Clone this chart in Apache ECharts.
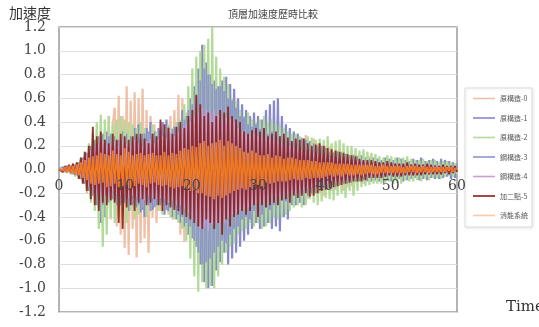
<!DOCTYPE html>
<html>
<head>
<meta charset="utf-8">
<script src="https://cdn.jsdelivr.net/npm/echarts@6/dist/echarts.min.js"></script>
<style>
html,body{margin:0;padding:0;background:#fff;}
#chart{width:539px;height:327px;}
</style>
</head>
<body>
<div id="chart"></div>
<script>
// Chart texts
const chartTitle = '頂層加速度歷時比較';
const yAxisTitle = '加速度';
const xAxisTitle = 'Time';
const seriesNames = ['原構造-0', '原構造-1', '原構造-2', '鋼構造-3', '鋼構造-4', '加二點-5', '消能系統'];
const xTicks = [0, 10, 20, 30, 40, 50, 60];
const yTicks = [-1.2, -1.0, -0.8, -0.6, -0.4, -0.2, 0.0, 0.2, 0.4, 0.6, 0.8, 1.0, 1.2];
// sampling interval of the records (s), records start at t = 0
const timeStep = 0.3;

// Series values (one row = 3 s)
const s0 = [
 0, 0.01, -0.01, 0.02, -0.02, 0.01, -0.03, 0.02, -0.02, 0.03,
 -0.05, 0.08, -0.1, 0.12, -0.09, 0.15, -0.18, 0.14, -0.2, 0.22,
 -0.28, 0.25, -0.35, 0.32, -0.3, 0.45, -0.42, 0.38, 0.52, -0.48,
 0.62, -0.55, 0.45, -0.66, 0.7, -0.72, 0.58, -0.5, 0.65, -0.74,
 0.6, -0.62, 0.68, -0.58, 0.5, -0.7, 0.45, -0.4, 0.38, -0.45,
 0.32, -0.35, 0.4, -0.3, 0.28, -0.38, 0.45, -0.42, 0.5, -0.4,
 0.63, -0.55, 0.6, -0.61, 0.48, -0.45, 0.35, -0.3, 0.4, -0.35,
 0.3, -0.38, 0.35, -0.3, 0.4, -0.32, 0.28, -0.35, 0.3, -0.28,
 0.32, -0.3, 0.28, -0.25, 0.35, -0.3, 0.27, -0.32, 0.3, -0.26,
 0.25, -0.3, 0.28, -0.22, 0.3, -0.25, 0.35, -0.28, 0.42, -0.3,
 0.38, -0.32, 0.4, -0.3, 0.33, -0.35, 0.3, -0.28, 0.32, -0.3,
 0.28, -0.25, 0.3, -0.26, 0.22, -0.28, 0.3, -0.24, 0.28, -0.3,
 0.3, -0.28, 0.27, -0.26, 0.29, -0.25, 0.24, -0.22, 0.26, -0.2,
 0.22, -0.2, 0.18, -0.22, 0.2, -0.16, 0.19, -0.18, 0.15, -0.17,
 0.16, -0.14, 0.15, -0.18, 0.13, -0.15, 0.12, -0.14, 0.13, -0.11,
 0.12, -0.1, 0.11, -0.12, 0.1, -0.09, 0.11, -0.1, 0.08, -0.1,
 0.09, -0.08, 0.07, -0.09, 0.08, -0.07, 0.06, -0.08, 0.07, -0.06,
 0.07, -0.06, 0.05, -0.07, 0.06, -0.05, 0.06, -0.06, 0.05, -0.05,
 0.05, -0.04, 0.06, -0.05, 0.04, -0.05, 0.05, -0.04, 0.04, -0.05,
 0.04, -0.04, 0.05, -0.03, 0.04, -0.04, 0.03, -0.04, 0.04, -0.03,
 0.02
];
const s1 = [
 0, -0.01, 0.02, -0.02, 0.03, -0.02, 0.03, -0.04, 0.04, -0.05,
 0.06, -0.08, 0.1, -0.12, 0.14, -0.18, 0.2, -0.22, 0.25, -0.3,
 0.28, -0.45, 0.3, -0.4, 0.32, -0.28, 0.3, -0.25, 0.28, -0.3,
 0.25, -0.3, 0.32, -0.28, 0.3, -0.35, 0.28, -0.3, 0.35, -0.32,
 0.38, -0.36, 0.3, -0.4, 0.35, -0.3, 0.4, -0.34, 0.32, -0.3,
 0.35, -0.3, 0.4, -0.38, 0.42, -0.35, 0.3, -0.4, 0.36, -0.42,
 0.4, -0.45, 0.5, -0.48, 0.45, -0.55, 0.6, -0.58, 0.7, -0.65,
 0.85, -0.8, 1.05, -0.95, 0.9, -1.0, 0.8, -0.98, 0.75, -0.85,
 0.7, -0.78, 0.75, -0.7, 0.78, -0.8, 0.72, -0.75, 0.68, -0.7,
 0.6, -0.65, 0.55, -0.6, 0.5, -0.55, 0.45, -0.5, 0.48, -0.45,
 0.45, -0.5, 0.42, -0.48, 0.5, -0.45, 0.55, -0.5, 0.58, -0.48,
 0.6, -0.52, 0.45, -0.4, 0.38, -0.42, 0.35, -0.3, 0.32, -0.3,
 0.3, -0.28, 0.26, -0.3, 0.25, -0.22, 0.24, -0.2, 0.22, -0.2,
 0.2, -0.18, 0.2, -0.16, 0.18, -0.17, 0.15, -0.16, 0.14, -0.15,
 0.15, -0.13, 0.14, -0.12, 0.13, -0.12, 0.12, -0.11, 0.12, -0.1,
 0.11, -0.1, 0.12, -0.09, 0.1, -0.1, 0.09, -0.1, 0.1, -0.09,
 0.09, -0.1, 0.08, -0.09, 0.1, -0.08, 0.09, -0.1, 0.08, -0.09,
 0.1, -0.08, 0.09, -0.1, 0.08, -0.09, 0.07, -0.08, 0.09, -0.07,
 0.08, -0.09, 0.1, -0.08, 0.07, -0.09, 0.08, -0.07, 0.09, -0.08,
 0.07, -0.08, 0.09, -0.07, 0.08, -0.06, 0.07, -0.08, 0.06, -0.07,
 0.05
];
const s2 = [
 0, 0.01, -0.02, 0.02, -0.03, 0.03, -0.04, 0.05, -0.06, 0.06,
 -0.08, 0.1, -0.12, 0.15, -0.2, 0.22, -0.28, 0.3, -0.35, 0.4,
 -0.5, 0.46, -0.65, 0.42, -0.55, 0.45, -0.4, 0.38, -0.45, 0.42,
 -0.4, 0.45, -0.38, 0.42, -0.45, 0.4, -0.35, 0.38, -0.42, 0.35,
 -0.38, 0.4, -0.32, 0.35, -0.4, 0.3, -0.35, 0.38, -0.3, 0.32,
 -0.35, 0.3, -0.38, 0.35, -0.32, 0.38, -0.4, 0.35, -0.42, 0.4,
 -0.45, 0.42, -0.5, 0.55, -0.6, 0.7, -0.75, 0.85, -0.9, 0.95,
 -1.03, 1.0, -0.95, 1.05, -1.0, 1.1, -0.98, 1.2, -1.0, 0.95,
 -0.9, 0.85, -0.8, 0.78, -0.7, 0.72, -0.65, 0.6, -0.62, 0.58,
 -0.55, 0.5, -0.52, 0.45, -0.5, 0.48, -0.45, 0.42, -0.48, 0.4,
 -0.45, 0.42, -0.5, 0.45, -0.48, 0.4, -0.45, 0.42, -0.4, 0.38,
 -0.42, 0.38, -0.4, 0.35, -0.38, 0.32, -0.35, 0.3, -0.32, 0.3,
 -0.3, 0.28, -0.32, 0.26, -0.3, 0.28, -0.25, 0.27, -0.28, 0.25,
 -0.3, 0.26, -0.27, 0.25, -0.24, 0.28, -0.25, 0.22, -0.26, 0.24,
 -0.22, 0.25, -0.2, 0.22, -0.24, 0.2, -0.18, 0.2, -0.22, 0.18,
 -0.18, 0.16, -0.15, 0.17, -0.14, 0.15, -0.13, 0.14, -0.12, 0.13,
 -0.12, 0.11, -0.12, 0.1, -0.11, 0.12, -0.1, 0.11, -0.12, 0.1,
 -0.11, 0.1, -0.12, 0.1, -0.09, 0.11, -0.1, 0.09, -0.1, 0.08,
 -0.09, 0.08, -0.1, 0.09, -0.08, 0.07, -0.09, 0.08, -0.07, 0.08,
 -0.07, 0.06, -0.08, 0.07, -0.06, 0.07, -0.05, 0.06, -0.06, 0.05,
 -0.04
];
const s3 = [
 0, 0.01, -0.01, 0.02, -0.02, 0.02, -0.03, 0.03, -0.03, 0.04,
 -0.05, 0.07, -0.08, 0.1, -0.12, 0.14, -0.16, 0.18, -0.2, 0.22,
 -0.25, 0.22, -0.3, 0.25, -0.22, 0.28, -0.25, 0.2, -0.26, 0.24,
 -0.22, 0.25, -0.28, 0.22, -0.25, 0.2, -0.3, 0.26, -0.24, 0.28,
 -0.3, 0.26, -0.34, 0.3, -0.28, 0.32, -0.35, 0.3, -0.32, 0.28,
 -0.3, 0.32, -0.28, 0.3, -0.34, 0.36, -0.3, 0.34, -0.32, 0.35,
 -0.38, 0.36, -0.4, 0.42, -0.45, 0.5, -0.48, 0.55, -0.6, 0.62,
 -0.7, 0.75, -0.8, 0.85, -0.78, 0.8, -0.75, 0.72, -0.7, 0.68,
 -0.65, 0.7, -0.6, 0.66, -0.62, 0.6, -0.55, 0.58, -0.5, 0.52,
 -0.48, 0.45, -0.42, 0.44, -0.4, 0.38, -0.42, 0.36, -0.35, 0.38,
 -0.36, 0.34, -0.38, 0.35, -0.32, 0.3, -0.34, 0.32, -0.3, 0.28,
 -0.3, 0.28, -0.26, 0.25, -0.27, 0.24, -0.22, 0.23, -0.2, 0.22,
 -0.2, 0.18, -0.2, 0.17, -0.18, 0.16, -0.15, 0.17, -0.16, 0.14,
 -0.14, 0.13, -0.15, 0.12, -0.13, 0.12, -0.11, 0.12, -0.1, 0.11,
 -0.1, 0.09, -0.1, 0.1, -0.09, 0.08, -0.09, 0.08, -0.07, 0.08,
 -0.07, 0.07, -0.06, 0.07, -0.06, 0.05, -0.06, 0.06, -0.05, 0.06,
 -0.05, 0.06, -0.05, 0.05, -0.06, 0.04, -0.05, 0.05, -0.04, 0.05,
 -0.05, 0.04, -0.05, 0.04, -0.04, 0.05, -0.04, 0.04, -0.05, 0.04,
 -0.04, 0.04, -0.03, 0.04, -0.04, 0.03, -0.04, 0.03, -0.03, 0.04,
 -0.03, 0.03, -0.04, 0.03, -0.03, 0.03, -0.02, 0.03, -0.03, 0.02,
 -0.02
];
const s4 = [
 0, -0.01, 0.01, -0.02, 0.02, -0.02, 0.03, -0.03, 0.04, -0.04,
 0.05, -0.06, 0.08, -0.1, 0.12, -0.14, 0.16, -0.15, 0.18, -0.2,
 0.22, -0.2, 0.24, -0.22, 0.2, -0.25, 0.22, -0.18, 0.24, -0.2,
 0.2, -0.22, 0.25, -0.2, 0.22, -0.24, 0.2, -0.22, 0.25, -0.23,
 0.22, -0.24, 0.2, -0.26, 0.24, -0.22, 0.26, -0.24, 0.22, -0.25,
 0.26, -0.24, 0.28, -0.25, 0.27, -0.28, 0.3, -0.26, 0.28, -0.3,
 0.32, -0.3, 0.35, -0.33, 0.38, -0.36, 0.4, -0.42, 0.45, -0.44,
 0.48, -0.5, 0.52, -0.48, 0.5, -0.52, 0.48, -0.46, 0.5, -0.45,
 0.46, -0.44, 0.42, -0.45, 0.44, -0.4, 0.42, -0.38, 0.4, -0.36,
 0.35, -0.34, 0.32, -0.33, 0.3, -0.32, 0.28, -0.3, 0.3, -0.28,
 0.28, -0.27, 0.26, -0.28, 0.27, -0.25, 0.26, -0.24, 0.25, -0.23,
 0.24, -0.22, 0.22, -0.23, 0.2, -0.21, 0.2, -0.19, 0.18, -0.2,
 0.18, -0.17, 0.16, -0.17, 0.15, -0.16, 0.14, -0.15, 0.14, -0.13,
 0.13, -0.12, 0.12, -0.13, 0.11, -0.12, 0.1, -0.11, 0.1, -0.1,
 0.09, -0.1, 0.09, -0.08, 0.09, -0.08, 0.07, -0.08, 0.07, -0.07,
 0.07, -0.06, 0.07, -0.06, 0.06, -0.06, 0.05, -0.06, 0.05, -0.05,
 0.05, -0.05, 0.04, -0.05, 0.04, -0.04, 0.05, -0.04, 0.04, -0.04,
 0.04, -0.04, 0.03, -0.04, 0.04, -0.03, 0.03, -0.04, 0.03, -0.03,
 0.03, -0.03, 0.03, -0.03, 0.02, -0.03, 0.03, -0.02, 0.03, -0.02,
 0.02, -0.03, 0.02, -0.02, 0.02, -0.02, 0.02, -0.02, 0.01, -0.02,
 0.01
];
const s5 = [
 0, 0.01, -0.02, 0.03, -0.02, 0.04, -0.03, 0.05, -0.04, 0.06,
 -0.08, 0.1, -0.12, 0.15, -0.18, 0.2, -0.25, 0.36, -0.3, 0.28,
 -0.35, 0.32, -0.28, 0.25, -0.3, 0.22, -0.26, 0.3, -0.28, 0.25,
 -0.45, 0.3, -0.5, 0.28, -0.32, 0.25, -0.3, 0.28, -0.35, 0.3,
 -0.28, 0.3, -0.25, 0.26, -0.3, 0.22, -0.28, 0.3, -0.25, 0.28,
 -0.3, 0.42, -0.35, 0.38, -0.3, 0.35, -0.32, 0.3, -0.34, 0.36,
 -0.35, 0.4, -0.38, 0.35, -0.4, 0.45, -0.42, 0.5, -0.45, 0.63,
 -0.48, 0.55, -0.5, 0.45, -0.42, 0.48, -0.45, 0.4, -0.5, 0.45,
 -0.45, 0.5, -0.55, 0.48, -0.42, 0.53, -0.48, 0.45, -0.4, 0.42,
 -0.38, 0.4, -0.35, 0.32, -0.38, 0.3, -0.35, 0.33, -0.3, 0.35,
 -0.4, 0.32, -0.3, 0.35, -0.32, 0.28, -0.3, 0.3, -0.28, 0.32,
 -0.3, 0.28, -0.26, 0.3, -0.25, 0.27, -0.28, 0.24, -0.22, 0.26,
 -0.24, 0.25, -0.22, 0.26, -0.2, 0.22, -0.23, 0.2, -0.22, 0.21,
 -0.2, 0.22, -0.18, 0.2, -0.17, 0.18, -0.16, 0.17, -0.15, 0.16,
 -0.14, 0.15, -0.13, 0.14, -0.12, 0.13, -0.11, 0.12, -0.1, 0.11,
 -0.1, 0.09, -0.1, 0.08, -0.09, 0.08, -0.07, 0.08, -0.07, 0.07,
 -0.07, 0.06, -0.07, 0.06, -0.06, 0.07, -0.05, 0.06, -0.06, 0.05,
 -0.06, 0.05, -0.06, 0.05, -0.05, 0.06, -0.05, 0.04, -0.05, 0.05,
 -0.05, 0.04, -0.05, 0.04, -0.04, 0.05, -0.04, 0.04, -0.04, 0.03,
 -0.04, 0.03, -0.04, 0.04, -0.03, 0.03, -0.04, 0.03, -0.03, 0.03,
 -0.02
];
const s6 = [
 0, 0.01, -0.01, 0.02, -0.02, 0.03, -0.03, 0.03, -0.04, 0.04,
 -0.05, 0.06, -0.07, 0.08, -0.09, 0.1, -0.12, 0.11, -0.13, 0.12,
 -0.12, 0.14, -0.11, 0.13, -0.15, 0.12, -0.14, 0.16, -0.12, 0.13,
 -0.15, 0.12, -0.14, 0.18, -0.13, 0.15, -0.16, 0.12, -0.14, 0.13,
 -0.12, 0.14, -0.13, 0.12, -0.15, 0.13, -0.12, 0.14, -0.11, 0.12,
 -0.13, 0.12, -0.14, 0.15, -0.13, 0.12, -0.15, 0.14, -0.16, 0.13,
 -0.15, 0.16, -0.14, 0.18, -0.16, 0.17, -0.18, 0.2, -0.17, 0.19,
 -0.2, 0.22, -0.2, 0.24, -0.22, 0.2, -0.23, 0.22, -0.25, 0.23,
 -0.22, 0.25, -0.24, 0.2, -0.22, 0.24, -0.2, 0.22, -0.18, 0.2,
 -0.17, 0.18, -0.16, 0.15, -0.17, 0.14, -0.15, 0.16, -0.13, 0.14,
 -0.13, 0.12, -0.14, 0.12, -0.11, 0.13, -0.12, 0.1, -0.11, 0.12,
 -0.1, 0.11, -0.1, 0.09, -0.1, 0.1, -0.09, 0.1, -0.08, 0.09,
 -0.09, 0.08, -0.09, 0.08, -0.07, 0.08, -0.08, 0.07, -0.07, 0.07,
 -0.07, 0.06, -0.07, 0.06, -0.06, 0.06, -0.05, 0.06, -0.06, 0.05,
 -0.05, 0.05, -0.06, 0.05, -0.04, 0.05, -0.05, 0.04, -0.05, 0.04,
 -0.04, 0.04, -0.05, 0.04, -0.04, 0.04, -0.03, 0.04, -0.04, 0.03,
 -0.04, 0.03, -0.03, 0.04, -0.03, 0.03, -0.03, 0.03, -0.03, 0.03,
 -0.03, 0.03, -0.03, 0.02, -0.03, 0.03, -0.02, 0.03, -0.02, 0.03,
 -0.03, 0.02, -0.02, 0.03, -0.02, 0.02, -0.03, 0.02, -0.02, 0.02,
 -0.02, 0.02, -0.02, 0.02, -0.02, 0.02, -0.01, 0.02, -0.02, 0.01,
 0
];
const seriesValues = [s0, s1, s2, s3, s4, s5, s6];

// Styles
const lineColors = ['#efbfa6', '#8888cc', '#b2da98', '#8e96cc', '#c8a0cc', '#8a1e1a', '#f07a22'];
const legendColors = ['#efbfa6', '#8888cc', '#b2da98', '#8e96cc', '#c8a0cc', '#8a1e1a', '#f8c9a2'];
const lineWidths = [2.2, 2.2, 2.2, 1.8, 1.8, 1.8, 1.8];

const GRID_TOP = 27, GRID_BOTTOM = 15;
const plotHeight = 327 - GRID_TOP - GRID_BOTTOM;

const chart = echarts.init(document.getElementById('chart'), null, {renderer: 'canvas'});

const series = seriesNames.map((name, k) => ({
  name: name,
  type: 'line',
  symbol: 'none',
  showSymbol: false,
  animation: false,
  silent: true,
  lineStyle: {color: lineColors[k], width: lineWidths[k], opacity: k === 5 ? 0.9 : 1},
  itemStyle: {color: lineColors[k]},
  data: seriesValues[k].map((v, i) => [Math.round(i * timeStep * 100) / 100, v])
}));

chart.setOption({
  animation: false,
  backgroundColor: '#ffffff',
  grid: {
    left: 59, right: 82, top: GRID_TOP, bottom: GRID_BOTTOM,
    containLabel: false,
    outerBoundsMode: 'none',
    show: true, borderColor: '#9a9a9a', borderWidth: 1.5, backgroundColor: 'transparent'
  },
  legend: {
    orient: 'vertical',
    left: 465, top: 88,
    width: 67,
    padding: [7, 4, 8, 8],
    itemGap: 12.5,
    itemWidth: 22,
    itemHeight: 8,
    icon: 'path://M0,3.2 L22,3.2 L22,4.8 L0,4.8 Z',
    borderColor: '#dcdcdc',
    borderWidth: 1,
    shadowColor: 'rgba(0,0,0,0.08)',
    shadowBlur: 3,
    shadowOffsetX: 1,
    shadowOffsetY: 1,
    backgroundColor: '#fff',
    textStyle: {fontFamily: '"Noto Sans CJK TC", "Noto Sans CJK SC", sans-serif', fontSize: 7, color: '#555'},
    data: seriesNames.map((n, k) => ({
      name: n,
      itemStyle: {color: legendColors[k]}
    }))
  },
  xAxis: {
    type: 'value',
    position: 'bottom',
    offset: -plotHeight / 2,
    z: 5,
    min: xTicks[0], max: xTicks[xTicks.length - 1], interval: 10,
    axisLine: {show: false, onZero: false},
    axisTick: {show: false},
    splitLine: {show: false},
    axisLabel: {
      margin: 10,
      fontFamily: '"DejaVu Serif", "Liberation Serif", serif',
      fontSize: 14, color: '#444'
    }
  },
  yAxis: {
    type: 'value',
    min: yTicks[0], max: yTicks[yTicks.length - 1], interval: 0.2,
    axisLine: {show: false},
    axisTick: {show: false},
    splitLine: {lineStyle: {color: '#dedede', width: 1}},
    axisLabel: {
      margin: 13,
      fontFamily: '"DejaVu Serif", "Liberation Serif", serif',
      fontSize: 14, color: '#444',
      formatter: v => v.toFixed(1)
    }
  },
  graphic: [
    {type: 'text', left: 228, top: 9, style: {text: chartTitle, fontSize: 10, fontFamily: '"Noto Sans CJK TC", sans-serif', fill: '#444'}},
    {type: 'text', left: 9, top: 6, style: {text: yAxisTitle, fontSize: 14, fontFamily: '"Noto Sans CJK TC", sans-serif', fill: '#333'}},
    {type: 'text', left: 506, top: 300, style: {text: xAxisTitle, fontSize: 15, fontFamily: '"DejaVu Serif", "Liberation Serif", serif', fill: '#333'}}
  ],
  series: series
});
</script>
</body>
</html>
